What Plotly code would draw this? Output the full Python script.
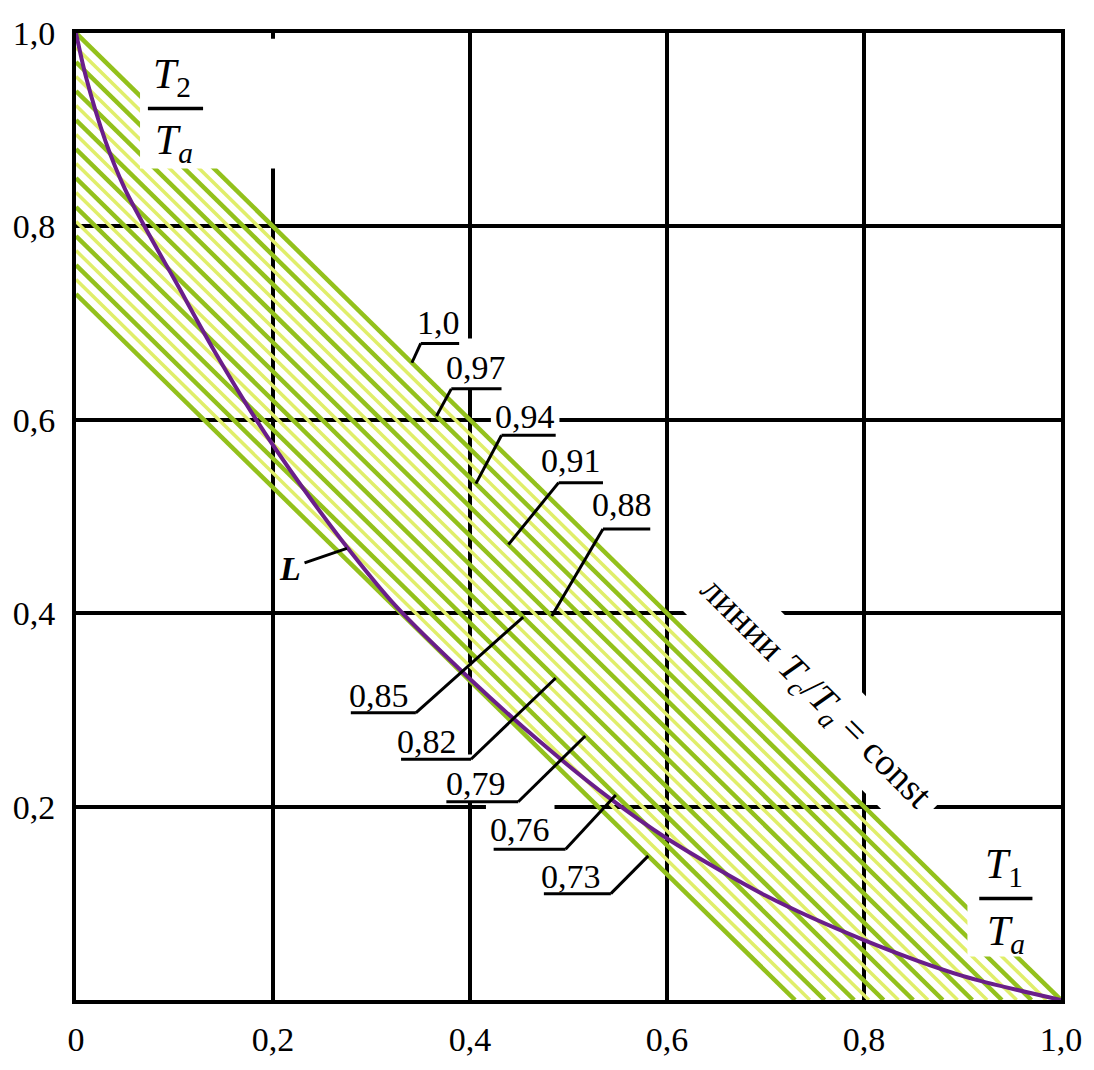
import plotly.graph_objects as go

# ---- data -------------------------------------------------------------
x_tick_vals = [0, 0.2, 0.4, 0.6, 0.8, 1.0]
x_tick_text = ["0", "0,2", "0,4", "0,6", "0,8", "1,0"]
y_tick_vals = [0.2, 0.4, 0.6, 0.8, 1.0]
y_tick_text = ["0,2", "0,4", "0,6", "0,8", "1,0"]

# curve L : T2/Ta as a function of T1/Ta
curve_x = [0, 0.01, 0.03, 0.05, 0.075, 0.1, 0.14, 0.183, 0.23, 0.28, 0.325,
           0.4, 0.47, 0.54, 0.6, 0.7, 0.8, 0.9, 1.0]
curve_y = [1.0, 0.955, 0.888, 0.838, 0.79, 0.745, 0.672, 0.6, 0.53, 0.462, 0.407,
           0.332, 0.268, 0.21, 0.167, 0.108, 0.062, 0.025, 0.0]

# labelled lines Tc/Ta = const  (T1/Ta + T2/Ta = const)
const_levels = [1.0, 0.97, 0.94, 0.91, 0.88, 0.85, 0.82, 0.79, 0.76, 0.73]
# intermediate hatch lines
mid_levels = [0.985, 0.955, 0.925, 0.895, 0.865, 0.835, 0.805, 0.775, 0.745]

# ---- label placement (text centre, underline span/height, leader end x) ----
label_layout = {
    1.0:  dict(tx=0.368, ty=0.701, ux=(0.350, 0.389), uy=0.679, lx=0.341, side="right"),
    0.97: dict(tx=0.406, ty=0.654, ux=(0.381, 0.432), uy=0.632, lx=0.366, side="right"),
    0.94: dict(tx=0.456, ty=0.603, ux=(0.432, 0.487), uy=0.584, lx=0.406, side="right"),
    0.91: dict(tx=0.503, ty=0.558, ux=(0.490, 0.535), uy=0.535, lx=0.439, side="right"),
    0.88: dict(tx=0.554, ty=0.512, ux=(0.535, 0.583), uy=0.487, lx=0.483, side="right"),
    0.85: dict(tx=0.308, ty=0.315, ux=(0.279, 0.345), uy=0.297, lx=0.454, side="left"),
    0.82: dict(tx=0.356, ty=0.267, ux=(0.330, 0.401), uy=0.249, lx=0.487, side="left"),
    0.79: dict(tx=0.406, ty=0.224, ux=(0.376, 0.449), uy=0.205, lx=0.517, side="left"),
    0.76: dict(tx=0.451, ty=0.176, ux=(0.424, 0.497), uy=0.156, lx=0.548, side="left"),
    0.73: dict(tx=0.503, ty=0.128, ux=(0.475, 0.543), uy=0.110, lx=0.581, side="left"),
}

SERIF = "Liberation Serif"
GREEN = "#93c11c"
YELLOW = "#e0ee6a"
PURPLE = "#6a1e8a"


def fmt(v):
    s = f"{v:.2f}".rstrip("0")
    if s.endswith("."):
        s += "0"
    return s.replace(".", ",")


def hatch(levels):
    xs, ys = [], []
    for c in levels:
        xs += [0, c, None]
        ys += [c, 0, None]
    return xs, ys


fig = go.Figure()

# hatch band of constant-ratio lines
mx, my = hatch(mid_levels)
fig.add_trace(go.Scatter(x=mx, y=my, mode="lines", line=dict(color=YELLOW, width=3.5),
                         hoverinfo="skip"))
cx, cy = hatch(const_levels)
fig.add_trace(go.Scatter(x=cx, y=cy, mode="lines", line=dict(color=GREEN, width=4.5),
                         hoverinfo="skip"))

# curve L
fig.add_trace(go.Scatter(x=curve_x, y=curve_y, mode="lines",
                         line=dict(color=PURPLE, width=4, shape="spline", smoothing=0.8),
                         hoverinfo="skip"))

shapes = []
annotations = []

# white backing behind the axis-name fractions
shapes.append(dict(type="rect", xref="x", yref="y", x0=0.065, x1=0.25, y0=0.86, y1=0.994,
                   fillcolor="white", line=dict(width=0), layer="above"))
shapes.append(dict(type="rect", xref="x", yref="y", x0=0.905, x1=0.994, y0=0.045, y1=0.175,
                   fillcolor="white", line=dict(width=0), layer="above"))

# white backing behind the level labels
for c in const_levels:
    p = label_layout[c]
    txt = fmt(c)
    hw = 0.0088 * (len(txt) * 2 - 1) / 2 + 0.004
    shapes.append(dict(type="rect", xref="x", yref="y",
                       x0=p["tx"] - hw, x1=p["tx"] + hw,
                       y0=p["uy"], y1=p["ty"] + 0.03,
                       fillcolor="white", line=dict(width=0), layer="above"))

# underlines and leaders
for c in const_levels:
    p = label_layout[c]
    u0, u1 = p["ux"]
    lx = p["lx"]
    ly = c - lx
    shapes.append(dict(type="line", xref="x", yref="y", x0=u0, x1=u1, y0=p["uy"], y1=p["uy"],
                       line=dict(color="black", width=3), layer="above"))
    sx = u0 if p["side"] == "right" else u1
    shapes.append(dict(type="line", xref="x", yref="y", x0=sx, y0=p["uy"], x1=lx, y1=ly,
                       line=dict(color="black", width=3), layer="above"))
    annotations.append(dict(x=p["tx"], y=p["ty"], xref="x", yref="y", text=fmt(c),
                            showarrow=False, font=dict(family=SERIF, size=34, color="black"),
                            xanchor="center", yanchor="middle"))

# leader for curve L
shapes.append(dict(type="line", xref="x", yref="y", x0=0.232, y0=0.452, x1=0.275, y1=0.467,
                   line=dict(color="black", width=3), layer="above"))
annotations.append(dict(x=0.217, y=0.446, xref="x", yref="y", text="<b><i>L</i></b>",
                        showarrow=False, font=dict(family=SERIF, size=34, color="black")))

# axis-name fractions
shapes.append(dict(type="line", xref="x", yref="y", x0=0.073, x1=0.129, y0=0.922, y1=0.922,
                   line=dict(color="black", width=3.5), layer="above"))
annotations.append(dict(x=0.097, y=0.955, xref="x", yref="y", text="<i>T</i><sub>2</sub>",
                        showarrow=False, font=dict(family=SERIF, size=42, color="black")))
annotations.append(dict(x=0.099, y=0.886, xref="x", yref="y",
                        text="<i>T</i><sub><i>a</i></sub>",
                        showarrow=False, font=dict(family=SERIF, size=42, color="black")))

shapes.append(dict(type="line", xref="x", yref="y", x0=0.917, x1=0.971, y0=0.105, y1=0.105,
                   line=dict(color="black", width=3.5), layer="above"))
annotations.append(dict(x=0.942, y=0.138, xref="x", yref="y", text="<i>T</i><sub>1</sub>",
                        showarrow=False, font=dict(family=SERIF, size=42, color="black")))
annotations.append(dict(x=0.944, y=0.068, xref="x", yref="y",
                        text="<i>T</i><sub><i>a</i></sub>",
                        showarrow=False, font=dict(family=SERIF, size=42, color="black")))

# family label along the hatch band
annotations.append(dict(x=0.750, y=0.316, xref="x", yref="y",
                        text="линии <i>T</i><sub><i>c</i></sub>/<i>T</i><sub><i>a</i></sub> = const",
                        textangle=45, showarrow=False, bgcolor="white", borderpad=10,
                        font=dict(family=SERIF, size=38, color="black")))

axis_common = dict(range=[0, 1], showgrid=True, gridcolor="black", gridwidth=4,
                   zeroline=False, showline=True, mirror=True, linecolor="black",
                   linewidth=4, ticks="", fixedrange=True,
                   tickfont=dict(family=SERIF, size=34, color="black"))

fig.update_layout(
    width=1094, height=1070,
    margin=dict(l=76, r=30, t=33, b=49),
    plot_bgcolor="white", paper_bgcolor="white",
    showlegend=False,
    xaxis=dict(**axis_common, tickvals=x_tick_vals, ticktext=x_tick_text, ticklabelstandoff=6),
    yaxis=dict(**axis_common, tickvals=y_tick_vals, ticktext=y_tick_text, ticklabelstandoff=10),
    shapes=shapes,
    annotations=annotations,
)

fig.write_html("out.html")
